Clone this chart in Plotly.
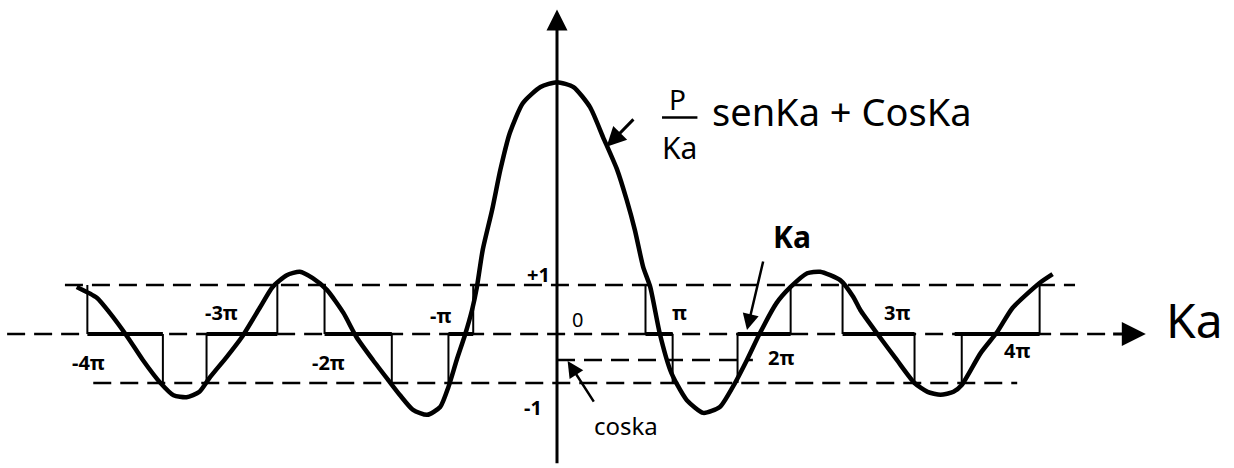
import plotly.graph_objects as go

# Ka in units of pi, and the value of (P/Ka) sen Ka + cos Ka
ka_curve = [-4.07, -3.90, -3.79, -3.64, -3.51, -3.36, -3.25, -3.14, -3.03, -2.94,
            -2.80, -2.67, -2.52, -2.41, -2.29, -2.18, -2.07, -1.95, -1.81, -1.70,
            -1.56, -1.43, -1.33, -1.22, -1.10, -0.99, -0.92, -0.85, -0.78, -0.72,
            -0.68, -0.63, -0.55, -0.48, -0.40, -0.29, -0.14, 0.00, 0.14, 0.28,
            0.39, 0.51, 0.59, 0.66, 0.73, 0.79, 0.87, 0.96, 1.02, 1.10,
            1.24, 1.38, 1.49, 1.61, 1.72, 1.86, 1.98, 2.12, 2.23, 2.40,
            2.51, 2.57, 2.71, 2.88, 3.03, 3.14, 3.25, 3.36, 3.43, 3.59,
            3.73, 3.86, 4.09, 4.20]
f_curve = [0.96, 0.74, 0.43, -0.06, -0.53, -1.00, -1.25, -1.29, -1.18, -0.88,
           -0.47, -0.06, 0.53, 0.96, 1.20, 1.27, 1.14, 0.90, 0.43, -0.06,
           -0.53, -0.94, -1.25, -1.55, -1.65, -1.49, -1.08, -0.53, -0.02, 0.49,
           0.94, 1.71, 2.53, 3.35, 4.10, 4.71, 5.04, 5.14, 5.04, 4.63,
           4.02, 3.35, 2.74, 2.12, 1.37, 0.96, 0.02, -0.74, -1.04, -1.35,
           -1.61, -1.49, -1.08, -0.53, 0.02, 0.63, 0.96, 1.24, 1.27, 1.10,
           0.76, 0.49, 0.02, -0.53, -1.00, -1.18, -1.24, -1.18, -1.04, -0.39,
           0.04, 0.53, 1.04, 1.22]

# allowed bands on the Ka axis (units of pi)
band_lo = [-3.98, -2.97, -1.97, -0.92, 0.75, 1.53, 2.42, 3.37]
band_hi = [-3.34, -2.37, -1.40, -0.71, 0.98, 1.98, 3.03, 4.09]

# band edges and the level (+1 / -1) each edge rises to
edge_ka = [-3.98, -3.34, -2.97, -2.37, -1.97, -1.40, -0.92, -0.71,
           0.75, 0.98, 1.53, 1.98, 2.42, 3.03, 3.43, 4.09]
edge_level = [1, -1, -1, 1, 1, -1, -1, 1, 1, -1, -1, 1, 1, -1, -1, 1]

# reference levels
upper_level = 1
lower_level = -1
cos_level = -0.53

pi_labels = ["-4π", "-3π", "-2π", "-π", "π", "2π", "3π", "4π"]
pi_label_x = [-3.97, -2.84, -1.94, -0.99, 1.04, 1.90, 2.88, 3.90]
pi_label_y = [-0.59, 0.43, -0.59, 0.37, 0.43, -0.47, 0.43, -0.33]

INK = "#000000"
FONT = "Noto Sans"

fig = go.Figure()

# dashed reference lines
dash = "18px,9px"
fig.add_trace(go.Scatter(x=[-4.66, 4.70], y=[0, 0], mode="lines",
                         line=dict(color=INK, width=2.4, dash=dash), hoverinfo="skip"))
fig.add_trace(go.Scatter(x=[-4.17, 4.39], y=[upper_level, upper_level], mode="lines",
                         line=dict(color=INK, width=2.4, dash=dash), hoverinfo="skip"))
fig.add_trace(go.Scatter(x=[-3.93, 3.90], y=[lower_level, lower_level], mode="lines",
                         line=dict(color=INK, width=2.4, dash=dash), hoverinfo="skip"))
fig.add_trace(go.Scatter(x=[0, 1.66], y=[cos_level, cos_level], mode="lines",
                         line=dict(color=INK, width=2.4, dash=dash), hoverinfo="skip"))

# band edges: thin verticals from the axis to +1 / -1
for xe, lv in zip(edge_ka, edge_level):
    fig.add_trace(go.Scatter(x=[xe, xe], y=[0, lv], mode="lines",
                             line=dict(color=INK, width=2), hoverinfo="skip"))

# allowed bands drawn as thick segments on the axis
for lo, hi in zip(band_lo, band_hi):
    fig.add_trace(go.Scatter(x=[lo, hi], y=[0, 0], mode="lines",
                             line=dict(color=INK, width=4), hoverinfo="skip"))

# the curve
fig.add_trace(go.Scatter(x=ka_curve, y=f_curve, mode="lines",
                         line=dict(color=INK, width=4.5, shape="spline", smoothing=0.6),
                         hoverinfo="skip"))

# fraction bar of P/Ka
fig.add_trace(go.Scatter(x=[0.89, 1.19], y=[4.42, 4.42], mode="lines",
                         line=dict(color=INK, width=2.5), hoverinfo="skip"))

annotations = []

# vertical axis with arrow
annotations.append(dict(x=0, y=6.62, ax=0, ay=-2.67, xref="x", yref="y", axref="x", ayref="y",
                        showarrow=True, arrowhead=2, arrowsize=1.4, arrowwidth=3,
                        arrowcolor=INK, text=""))
# arrowhead of the Ka axis
annotations.append(dict(x=4.99, y=0, ax=4.70, ay=0, xref="x", yref="y", axref="x", ayref="y",
                        showarrow=True, arrowhead=2, arrowsize=1.6, arrowwidth=3,
                        arrowcolor=INK, text=""))
# pointer to the curve from the formula
annotations.append(dict(x=0.42, y=3.82, ax=0.66, ay=4.41, xref="x", yref="y", axref="x", ayref="y",
                        showarrow=True, arrowhead=2, arrowsize=1.3, arrowwidth=3,
                        arrowcolor=INK, text=""))
# pointer to the cos Ka level
annotations.append(dict(x=0.09, y=-0.55, ax=0.32, ay=-1.41, xref="x", yref="y", axref="x", ayref="y",
                        showarrow=True, arrowhead=2, arrowsize=1.3, arrowwidth=2.5,
                        arrowcolor=INK, text=""))
# pointer to the band edge labelled Ka
annotations.append(dict(x=1.61, y=0.08, ax=1.75, ay=1.51, xref="x", yref="y", axref="x", ayref="y",
                        showarrow=True, arrowhead=2, arrowsize=1.3, arrowwidth=2.5,
                        arrowcolor=INK, text=""))

def label(txt, x, y, size, weight="normal", anchor="center"):
    annotations.append(dict(x=x, y=y, xref="x", yref="y", text=txt, showarrow=False,
                            font=dict(family=FONT, size=size, color=INK, weight=weight),
                            xanchor=anchor, yanchor="middle"))

for t, x, y in zip(pi_labels, pi_label_x, pi_label_y):
    label(t, x, y, 20, "bold")

label("+1", -0.16, 1.22, 20, "bold")
label("0", 0.17, 0.29, 20)
label("-1", -0.20, -1.51, 20, "bold")
label("Ka", 5.40, 0.29, 48)
label("Ka", 1.99, 1.98, 30, "bold")
label("coska", 0.585, -1.86, 24)
label("P", 1.02, 4.80, 28)
label("Ka", 1.04, 3.80, 30)
label("senKa + CosKa", 1.30, 4.55, 38, anchor="left")

fig.update_layout(
    width=1234, height=468,
    margin=dict(l=0, r=0, t=0, b=0),
    paper_bgcolor="white", plot_bgcolor="white",
    showlegend=False,
    xaxis=dict(range=[-4.7203, 5.7373], visible=False, fixedrange=True),
    yaxis=dict(range=[-2.7347, 6.8163], visible=False, fixedrange=True),
    annotations=annotations,
)

fig.write_html("out.html")
